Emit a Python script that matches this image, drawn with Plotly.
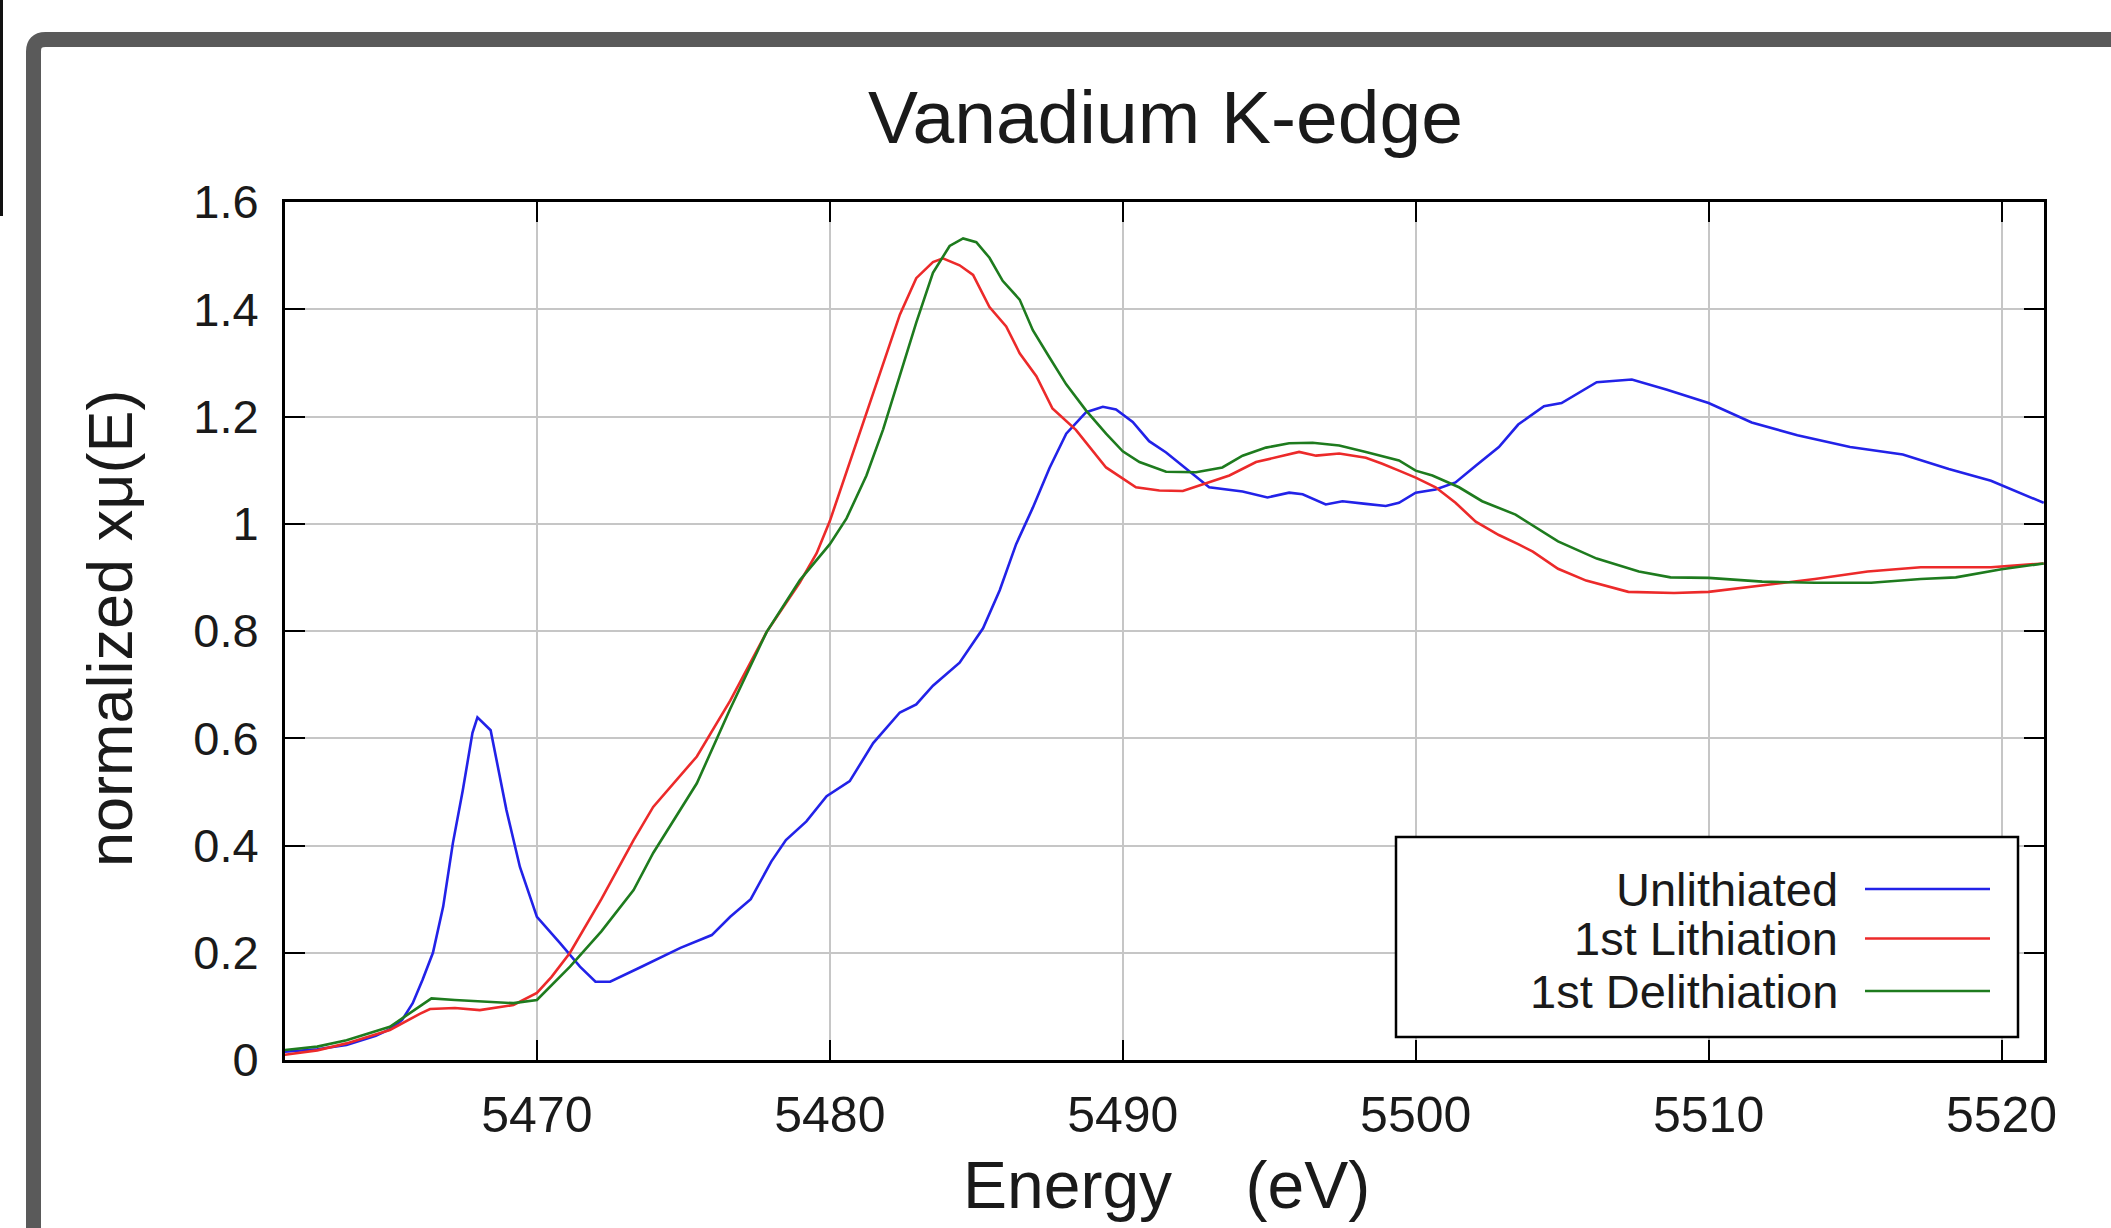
import plotly.graph_objects as go

# ---------------- data ----------------
series_names = ["Unlithiated", "1st Lithiation", "1st Delithiation"]
series_colors = ["#2222e8", "#ec2a2a", "#1e7b1e"]

unlith_x = [5461.3, 5462.5, 5463.5, 5464.5, 5465.0, 5465.4, 5465.76, 5466.1, 5466.45, 5466.8,
            5467.13, 5467.47, 5467.8, 5467.97, 5468.42, 5468.96, 5469.42, 5470.0, 5470.79, 5471.47,
            5472.0, 5472.5, 5473.5, 5474.9, 5475.97, 5476.6, 5477.3, 5478.0, 5478.5, 5479.2,
            5479.89, 5480.68, 5481.48, 5482.39, 5482.95, 5483.52, 5484.43, 5485.23, 5485.8, 5486.36,
            5486.93, 5487.5, 5488.07, 5488.75, 5489.32, 5489.77, 5490.34, 5490.9, 5491.48, 5492.27,
            5492.95, 5494.09, 5494.94, 5495.68, 5496.14, 5496.93, 5497.5, 5498.3, 5498.98, 5499.43,
            5500.0, 5500.68, 5501.36, 5502.05, 5502.84, 5503.5, 5504.38, 5504.98, 5506.18, 5507.38,
            5508.58, 5510.0, 5511.47, 5513.03, 5514.83, 5516.63, 5518.2, 5519.64, 5521.44]
unlith_y = [0.015, 0.02, 0.028, 0.045, 0.058, 0.075, 0.106, 0.15, 0.2, 0.286,
            0.404, 0.503, 0.61, 0.639, 0.615, 0.466, 0.36, 0.267, 0.218, 0.174,
            0.146, 0.146, 0.172, 0.209, 0.233, 0.267, 0.3, 0.37, 0.41, 0.445,
            0.492, 0.52, 0.591, 0.648, 0.663, 0.698, 0.741, 0.805, 0.876, 0.962,
            1.03, 1.104, 1.168, 1.208, 1.218, 1.213, 1.19, 1.154, 1.133, 1.099,
            1.068, 1.06, 1.049, 1.058, 1.055, 1.036, 1.042, 1.037, 1.033, 1.039,
            1.058, 1.064, 1.077, 1.108, 1.143, 1.185, 1.219, 1.225, 1.264, 1.269,
            1.25, 1.225, 1.189, 1.165, 1.143, 1.129, 1.102, 1.08, 1.039]

lith_x = [5461.3, 5462.5, 5463.5, 5464.98, 5466.0, 5466.35, 5467.2, 5468.05, 5469.2, 5470.0,
          5470.5, 5471.13, 5472.2, 5473.3, 5473.97, 5475.46, 5476.6, 5477.84, 5478.98, 5479.55,
          5480.0, 5480.68, 5481.25, 5481.82, 5482.39, 5482.95, 5483.52, 5483.86, 5484.43, 5484.89,
          5485.45, 5486.02, 5486.48, 5487.05, 5487.6, 5488.4, 5489.43, 5490.45, 5491.25, 5492.05,
          5492.73, 5493.64, 5494.55, 5495.45, 5496.02, 5496.6, 5497.39, 5498.3, 5498.86, 5499.43,
          5500.0, 5500.68, 5501.36, 5502.05, 5502.84, 5503.5, 5504.0, 5504.86, 5505.82, 5507.26,
          5508.82, 5510.0, 5511.83, 5513.63, 5515.43, 5517.24, 5519.64, 5521.44]
lith_y = [0.009, 0.018, 0.031, 0.056, 0.086, 0.095, 0.097, 0.093, 0.1026, 0.125,
          0.155, 0.2, 0.3, 0.41, 0.472, 0.566, 0.67, 0.798, 0.891, 0.945,
          1.005, 1.115, 1.205, 1.296, 1.39, 1.458, 1.488, 1.495, 1.482, 1.464,
          1.404, 1.368, 1.318, 1.275, 1.215, 1.175, 1.105, 1.068, 1.062, 1.061,
          1.074, 1.09, 1.115, 1.127, 1.134, 1.127, 1.131, 1.123, 1.112, 1.099,
          1.086, 1.068, 1.039, 1.004, 0.979, 0.962, 0.948, 0.916, 0.894, 0.873,
          0.871, 0.873, 0.885, 0.897, 0.911, 0.919, 0.919, 0.926]

delith_x = [5461.3, 5462.5, 5463.5, 5464.98, 5466.0, 5466.4, 5467.2, 5468.05, 5469.2, 5470.0,
            5471.13, 5472.2, 5473.3, 5473.97, 5475.46, 5476.6, 5477.84, 5478.98, 5480.0, 5480.57,
            5481.25, 5481.82, 5482.39, 5482.95, 5483.52, 5484.09, 5484.55, 5485.0, 5485.45, 5485.9,
            5486.48, 5486.93, 5487.5, 5488.07, 5488.75, 5489.43, 5490.0, 5490.57, 5491.48, 5492.5,
            5493.4, 5494.09, 5494.89, 5495.68, 5496.48, 5497.39, 5498.3, 5499.43, 5500.0, 5500.57,
            5501.48, 5502.27, 5503.41, 5504.86, 5506.18, 5507.62, 5508.7, 5510.0, 5511.83, 5513.63,
            5515.55, 5517.24, 5518.44, 5520.0, 5521.44]
delith_y = [0.018, 0.025, 0.037, 0.062, 0.1, 0.115, 0.112, 0.11, 0.106, 0.112,
            0.174, 0.24, 0.317, 0.386, 0.516, 0.655, 0.798, 0.895, 0.962, 1.01,
            1.09, 1.176, 1.275, 1.375, 1.468, 1.518, 1.532, 1.525, 1.496, 1.453,
            1.418, 1.361, 1.31, 1.26, 1.211, 1.168, 1.135, 1.115, 1.097, 1.096,
            1.105, 1.127, 1.142, 1.15, 1.151, 1.146, 1.134, 1.118, 1.099, 1.09,
            1.068, 1.042, 1.017, 0.967, 0.935, 0.911, 0.9, 0.899, 0.892, 0.89,
            0.89, 0.897, 0.9, 0.915, 0.926]

x_ticks = [5470, 5480, 5490, 5500, 5510, 5520]
y_ticks = [0, 0.2, 0.4, 0.6, 0.8, 1.0, 1.2, 1.4, 1.6]
y_tick_labels = ["0", "0.2", "0.4", "0.6", "0.8", "1", "1.2", "1.4", "1.6"]

title_text = "Vanadium K-edge"
x_title = "Energy\u00a0\u00a0\u00a0\u00a0(eV)"
y_title = "normalized xμ(E)"

# ---------------- figure ----------------
W, H = 2111, 1228
L, R, T, B = 285, 2044, 202, 1060   # plot area in pixels


def px(x):
    return (x - L) / (R - L)


def py(y):
    return (B - y) / (B - T)


FONT = "Liberation Sans, Arial, Helvetica, sans-serif"
TXT = "#1a1a1a"

fig = go.Figure()
all_x = [unlith_x, lith_x, delith_x]
all_y = [unlith_y, lith_y, delith_y]
for name, color, xs, ys in zip(series_names, series_colors, all_x, all_y):
    fig.add_trace(go.Scatter(x=xs, y=ys, mode="lines", name=name,
                             line=dict(color=color, width=2.6), showlegend=False))

axis_common = dict(
    showline=True, linecolor="black", linewidth=3, mirror="ticks",
    ticks="inside", ticklen=20, tickwidth=2, tickcolor="black",
    showgrid=True, gridcolor="#c6c6c6", gridwidth=1.6,
    zeroline=False,
)

fig.update_xaxes(range=[5461.4, 5521.45], tickmode="array", tickvals=x_ticks,
                 ticktext=[str(v) for v in x_ticks], ticklabelstandoff=9,
                 tickfont=dict(family=FONT, size=50, color=TXT), **axis_common)
fig.update_yaxes(range=[0, 1.6], tickmode="array", tickvals=y_ticks,
                 ticktext=y_tick_labels, ticklabelstandoff=14,
                 tickfont=dict(family=FONT, size=47, color=TXT), **axis_common)

shapes = []
# outer dark frame with rounded corner (extends past the right/bottom edges)
fx, fy, r = 33.5, 39.5, 12
shapes.append(dict(
    type="path", xref="paper", yref="paper",
    path=(f"M {px(fx)},{py(H + 50)} L {px(fx)},{py(fy + r)} "
          f"Q {px(fx)},{py(fy)} {px(fx + r)},{py(fy)} L {px(W + 50)},{py(fy)}"),
    line=dict(color="#5a5a5a", width=15)))
# thin dark line at far left
shapes.append(dict(type="line", xref="paper", yref="paper",
                   x0=px(1.5), x1=px(1.5), y0=py(-5), y1=py(216),
                   line=dict(color="#111111", width=3)))
# legend box
shapes.append(dict(type="rect", xref="paper", yref="paper",
                   x0=px(1396), x1=px(2018), y0=py(1037), y1=py(837),
                   fillcolor="white", line=dict(color="black", width=2.5), layer="above"))

annotations = []
legend_y = [889, 938.5, 991]
for name, color, yy in zip(series_names, series_colors, legend_y):
    annotations.append(dict(text=name, xref="paper", yref="paper", x=px(1840), y=py(yy),
                            xanchor="right", yanchor="middle", showarrow=False,
                            font=dict(family=FONT, size=47, color=TXT)))
    shapes.append(dict(type="line", xref="paper", yref="paper",
                       x0=px(1865), x1=px(1990), y0=py(yy), y1=py(yy),
                       line=dict(color=color, width=2.6), layer="above"))

annotations.append(dict(text=x_title, xref="paper", yref="paper", x=px(1166), y=py(1185),
                        xanchor="center", yanchor="middle", showarrow=False,
                        font=dict(family=FONT, size=66, color=TXT)))
annotations.append(dict(text=y_title, xref="paper", yref="paper", x=px(110), y=py(629),
                        xanchor="center", yanchor="middle", showarrow=False, textangle=-90,
                        font=dict(family=FONT, size=63, color=TXT)))
annotations.append(dict(text=title_text, xref="paper", yref="paper", x=px(1165), y=py(117),
                        xanchor="center", yanchor="middle", showarrow=False,
                        font=dict(family=FONT, size=75, color=TXT)))

fig.update_layout(
    width=W, height=H,
    margin=dict(l=L, r=W - R, t=T, b=H - B, pad=0),
    paper_bgcolor="white", plot_bgcolor="white",
    shapes=shapes, annotations=annotations,
    showlegend=False,
)

fig.write_html("out.html", include_plotlyjs=True, config={"displayModeBar": False})
